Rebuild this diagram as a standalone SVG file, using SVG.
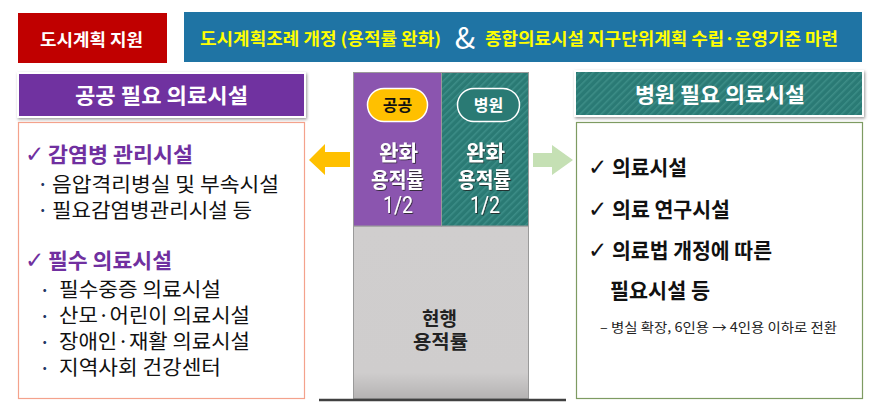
<svg xmlns="http://www.w3.org/2000/svg" width="876" height="412" viewBox="0 0 876 412">
  <defs>
    <style>
      text { font-family: "Noto Sans CJK KR", "Noto Sans", sans-serif; }
      .banner { fill: #FFFF00; font-size: 17px; font-weight: 700; }
      .hdr { fill: #FFFFFF; font-size: 21px; font-weight: 700; }
      .col { fill: #FFFFFF; font-size: 21px; font-weight: 700; }
      .colnum { fill: #FFFFFF; font-size: 23px; font-weight: 400; font-family: "Roboto", "Noto Sans", sans-serif; }
      .badge { font-size: 16px; font-weight: 700; text-anchor: middle; }
      .cat { fill: #7030A0; font-size: 21px; font-weight: 700; }
      .item { fill: #111111; font-size: 20px; font-weight: 400; }
      .dot { fill: #1F3864; font-size: 16px; font-weight: 700; }
      .ritem { fill: #111111; font-size: 21px; font-weight: 700; }
      .note { fill: #222222; font-size: 13px; font-weight: 400; }
      .chk { font-family: "DejaVu Sans", sans-serif; font-size: 23px; font-weight: 400; }
    </style>
    <pattern id="hatch" patternUnits="userSpaceOnUse" width="5" height="5" patternTransform="rotate(45)">
      <rect width="5" height="5" fill="#2A7A74"/>
      <rect width="1.6" height="5" fill="#3C8D87"/>
    </pattern>
    <linearGradient id="greyFill" x1="0" y1="0" x2="0" y2="1">
      <stop offset="0" stop-color="#D0CECE"/>
      <stop offset="0.85" stop-color="#CFCDCD"/>
      <stop offset="1" stop-color="#B5B3B3"/>
    </linearGradient>
    <filter id="shadow" x="-5%" y="-20%" width="110%" height="150%">
      <feDropShadow dx="1" dy="1.5" stdDeviation="1.5" flood-color="#7F7F7F" flood-opacity="0.8"/>
    </filter>
    <filter id="txtShadow" x="-10%" y="-10%" width="120%" height="130%">
      <feDropShadow dx="0.8" dy="1" stdDeviation="0.6" flood-color="#222222" flood-opacity="0.8"/>
    </filter>
  </defs>

  <rect width="876" height="412" fill="#FFFFFF"/>

  <!-- top banner -->
  <g id="support-label">
    <rect x="18" y="13" width="149" height="50" fill="#C00000"/>
    <text x="40" y="46" fill="#FFFFFF" font-size="17" font-weight="700" textLength="103" lengthAdjust="spacingAndGlyphs">도시계획 지원</text>
  </g>
  <g id="policy-banner">
    <rect x="184" y="12" width="678" height="50" fill="#1F74A4"/>
    <text class="banner" x="200" y="45" textLength="241" lengthAdjust="spacingAndGlyphs">도시계획조례 개정 (용적률 완화)</text>
    <text x="465" y="49" fill="#FFFFFF" font-size="30" font-family="Liberation Serif, serif" text-anchor="middle">&amp;</text>
    <text class="banner" x="485" y="45" textLength="353" lengthAdjust="spacingAndGlyphs">종합의료시설 지구단위계획 수립·운영기준 마련</text>
  </g>

  <!-- public side -->
  <g id="public-header">
    <rect x="18" y="73" width="287" height="44" fill="#7030A0" stroke="#FFFFFF" stroke-width="2" filter="url(#shadow)"/>
    <text class="hdr" x="75" y="103" textLength="173" lengthAdjust="spacingAndGlyphs">공공 필요 의료시설</text>
  </g>
  <g id="public-list">
    <rect x="18.5" y="122.5" width="286" height="276" fill="#FFFFFF" stroke="#F4A28C" stroke-width="1.2"/>
    <text class="chk" x="25" y="162" fill="#7030A0">✓</text>
    <text class="cat" x="48" y="162" textLength="145" lengthAdjust="spacingAndGlyphs">감염병 관리시설</text>
    <text class="dot" x="38" y="190">·</text>
    <text class="item" x="52" y="192" textLength="227" lengthAdjust="spacingAndGlyphs">음압격리병실 및 부속시설</text>
    <text class="dot" x="38" y="216">·</text>
    <text class="item" x="52" y="218" textLength="200" lengthAdjust="spacingAndGlyphs">필요감염병관리시설 등</text>
    <text class="chk" x="25" y="268" fill="#7030A0">✓</text>
    <text class="cat" x="48" y="268" textLength="124" lengthAdjust="spacingAndGlyphs">필수 의료시설</text>
    <text class="dot" x="40" y="296">·</text>
    <text class="item" x="59" y="297" textLength="162" lengthAdjust="spacingAndGlyphs">필수중증 의료시설</text>
    <text class="dot" x="40" y="322">·</text>
    <text class="item" x="59" y="323" textLength="191" lengthAdjust="spacingAndGlyphs">산모·어린이 의료시설</text>
    <text class="dot" x="40" y="348">·</text>
    <text class="item" x="59" y="349" textLength="191" lengthAdjust="spacingAndGlyphs">장애인·재활 의료시설</text>
    <text class="dot" x="40" y="374">·</text>
    <text class="item" x="59" y="375" textLength="162" lengthAdjust="spacingAndGlyphs">지역사회 건강센터</text>
  </g>

  <!-- floor area ratio column -->
  <g id="current-ratio">
    <rect x="353.5" y="226" width="175" height="172.5" fill="url(#greyFill)" stroke="#9A9A9A" stroke-width="1"/>
    <text x="422" y="326" fill="#222222" font-size="19" font-weight="700" textLength="35" lengthAdjust="spacingAndGlyphs">현행</text>
    <text x="413" y="349" fill="#222222" font-size="19" font-weight="700" textLength="55" lengthAdjust="spacingAndGlyphs">용적률</text>
  </g>
  <g id="public-bonus">
    <rect x="353.5" y="72.5" width="88" height="153.5" fill="#8B55AF" stroke="#9A9A9A" stroke-width="1"/>
    <rect x="367.5" y="88.5" width="60" height="33" rx="16.5" fill="#FFC000" stroke="#FFFFFF" stroke-width="1.5"/>
    <text class="badge" x="397.5" y="111" fill="#111111">공공</text>
    <g filter="url(#txtShadow)">
      <text class="col" x="379" y="160" textLength="39" lengthAdjust="spacingAndGlyphs">완화</text>
      <text class="col" x="371" y="187" textLength="53" lengthAdjust="spacingAndGlyphs">용적률</text>
      <text class="colnum" x="383" y="213" textLength="30" lengthAdjust="spacingAndGlyphs">1/2</text>
    </g>
  </g>
  <g id="hospital-bonus">
    <rect x="441.5" y="72.5" width="87" height="153.5" fill="url(#hatch)" stroke="#9A9A9A" stroke-width="1"/>
    <rect x="457.5" y="88.5" width="62" height="33" rx="16.5" fill="#2A7A74" stroke="#FFFFFF" stroke-width="1.5"/>
    <text class="badge" x="488.5" y="111" fill="#FFFFFF">병원</text>
    <g filter="url(#txtShadow)">
      <text class="col" x="466" y="160" textLength="39" lengthAdjust="spacingAndGlyphs">완화</text>
      <text class="col" x="458" y="187" textLength="53" lengthAdjust="spacingAndGlyphs">용적률</text>
      <text class="colnum" x="470" y="213" textLength="30" lengthAdjust="spacingAndGlyphs">1/2</text>
    </g>
  </g>

  <!-- connectors -->
  <g id="connectors">
    <line x1="319" y1="400" x2="566" y2="400" stroke="#404040" stroke-width="2.5"/>
    <polygon points="350,152 325,152 325,144 309,160 325,175 325,167 350,167" fill="#FFC000"/>
    <polygon points="533,153 552,153 552,145 573,160 552,175 552,167 533,167" fill="#C5E0B4"/>
  </g>

  <!-- hospital side -->
  <g id="hospital-header">
    <rect x="575" y="71" width="288" height="45" fill="url(#hatch)" stroke="#FFFFFF" stroke-width="2" filter="url(#shadow)"/>
    <text class="hdr" x="635" y="102" textLength="170" lengthAdjust="spacingAndGlyphs">병원 필요 의료시설</text>
  </g>
  <g id="hospital-list">
    <rect x="576.5" y="122.5" width="286" height="276" fill="#FFFFFF" stroke="#7E9B62" stroke-width="1.2"/>
    <text class="chk" x="588" y="175" fill="#111111">✓</text>
    <text class="ritem" x="612" y="175" textLength="75" lengthAdjust="spacingAndGlyphs">의료시설</text>
    <text class="chk" x="588" y="217" fill="#111111">✓</text>
    <text class="ritem" x="612" y="217" textLength="118" lengthAdjust="spacingAndGlyphs">의료 연구시설</text>
    <text class="chk" x="588" y="258" fill="#111111">✓</text>
    <text class="ritem" x="612" y="258" textLength="160" lengthAdjust="spacingAndGlyphs">의료법 개정에 따른</text>
    <text class="ritem" x="610" y="298" textLength="100" lengthAdjust="spacingAndGlyphs">필요시설 등</text>
    <text class="note" x="600" y="332" textLength="237" lengthAdjust="spacingAndGlyphs">– 병실 확장, 6인용 → 4인용 이하로 전환</text>
  </g>
</svg>
